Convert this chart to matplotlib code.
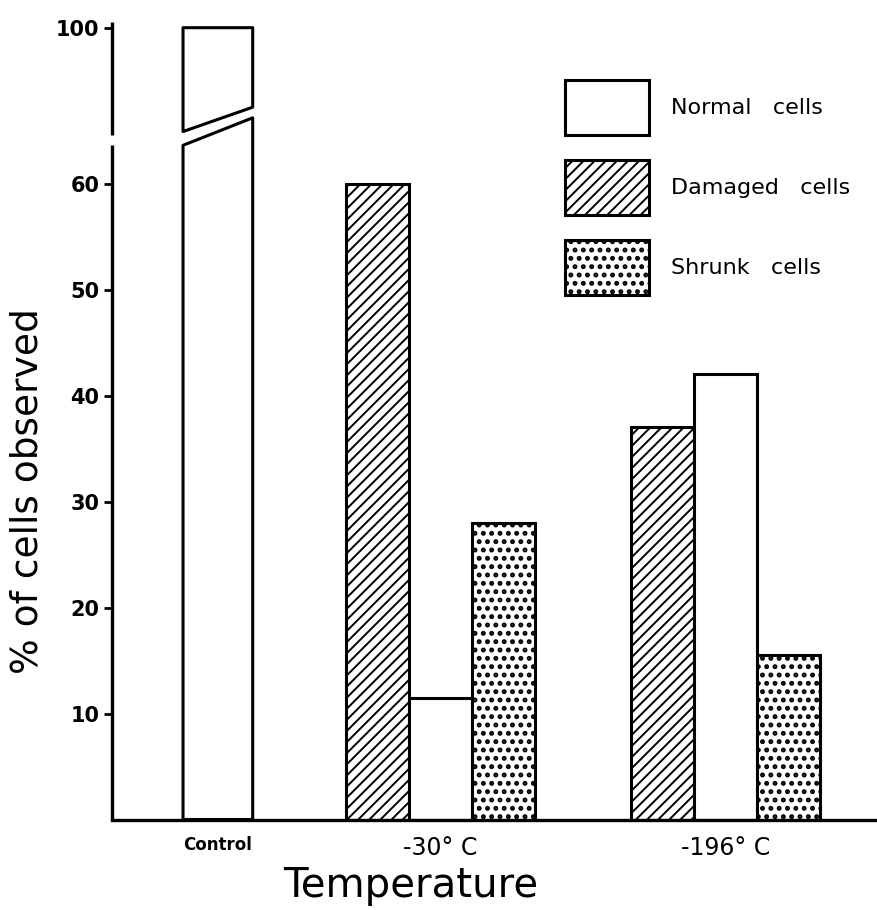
import matplotlib
matplotlib.use("Agg")
import matplotlib.pyplot as plt
from matplotlib.patches import Patch
import numpy as np

plt.rcParams['font.family'] = ['DejaVu Sans']

# data (% of cells observed)
groups = ["Control", "-30° C", "-196° C"]
control_normal = 100
normal_cells = [11.5, 42]
damaged_cells = [60, 37]
shrunk_cells = [28, 15.5]
y_ticks = [10, 20, 30, 40, 50, 60, 100]

# axis break: values above the break are shifted down
SHIFT = 25.3


def disp(v):
    return v if v < 63 else v - SHIFT


fig = plt.figure(figsize=(8.78, 9.10), dpi=100)
ax = fig.add_axes([112 / 878, (910 - 819.5) / 910, (878 - 112) / 878, (819.5 - 20) / 910])
ax.set_xlim(0, 766 / 67)
ax.set_ylim(0, (819.5 - 20) / 10.6)

lw = 2.2
centers = [1.58, 4.90, 9.16]
w = 0.94
STRIPE_LW = 1.4
DOT_LW = 2.3


def style_hatch(p, hlw):
    if hasattr(p, "set_hatch_linewidth"):
        p.set_hatch_linewidth(hlw)


# control bar, drawn with a break
c, cw = centers[0], 1.04
x0, x1 = c - cw / 2, c + cw / 2
ax.fill([x0, x1, x1, x0], [0, 0, 66.2, 63.6], facecolor="white", edgecolor="black",
        lw=lw, joinstyle="round")
ax.fill([x0, x1, x1, x0], [64.9, 67.2, disp(control_normal), disp(control_normal)],
        facecolor="white", edgecolor="black", lw=lw, joinstyle="round")

# grouped bars
xg = np.array(centers[1:])
plt.rcParams['hatch.linewidth'] = STRIPE_LW
bd = ax.bar(xg - w, damaged_cells, width=w, facecolor="white", edgecolor="black",
            lw=lw, hatch="///")
for p in bd:
    style_hatch(p, STRIPE_LW)
bn = ax.bar(xg, normal_cells, width=w, facecolor="white", edgecolor="black", lw=lw)
plt.rcParams['hatch.linewidth'] = DOT_LW
bs = ax.bar(xg + w, shrunk_cells, width=w, facecolor="white", edgecolor="black",
            lw=lw, hatch="..")
for p in bs:
    style_hatch(p, DOT_LW)

# axes styling
for s in ["top", "right", "left"]:
    ax.spines[s].set_visible(False)
ax.spines["bottom"].set_linewidth(2.4)
ytr = ax.get_yaxis_transform()
ax.plot([0, 0], [0, 63.6], color="black", lw=2.4, transform=ytr, clip_on=False,
        solid_capstyle="butt")
ax.plot([0, 0], [64.6, 75.2], color="black", lw=2.4, transform=ytr, clip_on=False,
        solid_capstyle="butt")

ax.set_yticks([disp(v) for v in y_ticks])
ax.set_yticklabels([str(v) for v in y_ticks], fontsize=15, fontweight="bold")
ax.tick_params(axis="y", direction="out", length=6, width=2, pad=3)

ax.set_xticks(centers)
ax.set_xticklabels(groups)
ax.tick_params(axis="x", length=0, pad=12)
for i, t in enumerate(ax.get_xticklabels()):
    if i == 0:
        t.set_fontsize(12)
        t.set_fontweight("bold")
    else:
        t.set_fontsize(17)

ax.set_xlabel("Temperature", fontsize=29)
ax.xaxis.set_label_coords((411 - 112) / 766, -(866 - 819.5) / 799.5)
ax.set_ylabel("% of cells observed", fontsize=27)
ax.yaxis.set_label_coords((46 - 112) / 766, (819.5 - 491) / 799.5)

# legend
handles = [
    Patch(facecolor="white", edgecolor="black", lw=lw),
    Patch(facecolor="white", edgecolor="black", lw=lw, hatch="///"),
    Patch(facecolor="white", edgecolor="black", lw=lw, hatch=".."),
]
labels = ["Normal   cells", "Damaged   cells", "Shrunk   cells"]
fs = 16
fpx = fs * 100 / 72
hh = (55 / fpx - 0.245) / 0.65
leg = ax.legend(handles, labels, loc="upper left", bbox_to_anchor=(565 / 878, 1 - 80 / 910),
                bbox_transform=fig.transFigure, frameon=False, fontsize=fs,
                handlelength=84 / fpx, handleheight=hh, labelspacing=25 / fpx,
                handletextpad=22 / fpx, borderpad=0, borderaxespad=0)
lp = leg.get_patches()
style_hatch(lp[1], STRIPE_LW)
style_hatch(lp[2], DOT_LW)

fig.savefig("out.png", dpi=100)
